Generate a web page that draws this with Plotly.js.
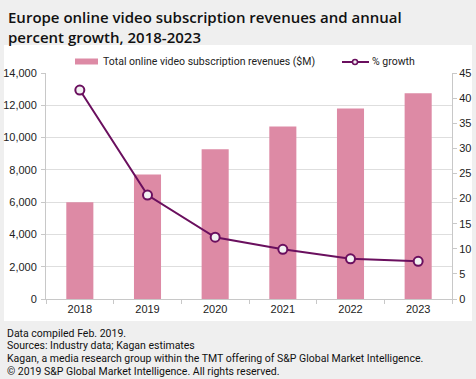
<!DOCTYPE html>
<html>
<head>
<meta charset="utf-8">
<script src="https://cdn.plot.ly/plotly-3.0.1.min.js"></script>
<style>
html,body{margin:0;padding:0;background:#efefef;}
#chart{width:476px;height:379px;}
</style>
</head>
<body>
<div id="chart"></div>
<script>
const years = ["2018", "2019", "2020", "2021", "2022", "2023"];
const revenues = [6000, 7720, 9270, 10680, 11800, 12740];
const growth = [41.6, 20.7, 12.3, 9.9, 8.0, 7.5];
const leftTicks = [0, 2000, 4000, 6000, 8000, 10000, 12000, 14000];
const rightTicks = [0, 5, 10, 15, 20, 25, 30, 35, 40, 45];
const seriesNames = ["Total online video subscription revenues ($M)", "% growth"];
const titleText = "Europe online video subscription revenues and annual<br>percent growth, 2018-2023";
const footerLines = [
  "Data compiled Feb. 2019.",
  "Sources: Industry data; Kagan estimates",
  "Kagan, a media research group within the TMT offering of S&P Global Market Intelligence.",
  "\u00a9 2019 S&P Global Market Intelligence. All rights reserved."
];

const barColor = "#dd8aa5";
const lineColor = "#6a0f5e";
const tickFont = {family: "Liberation Sans, Arial, sans-serif", size: 11, color: "#222"};
const W = 406, H = 226, L = 46, T = 73;
// helpers to convert pixel positions to paper coordinates (layout only)
const px = x => (x - L) / W;
const py = y => 1 - (y - T) / H;

const traces = [
  {
    type: "bar", x: years, y: revenues, name: seriesNames[0],
    marker: {color: barColor}, width: 0.4, yaxis: "y", showlegend: false
  },
  {
    type: "scatter", mode: "lines+markers", x: years, y: growth, name: seriesNames[1],
    yaxis: "y2", line: {color: lineColor, width: 2}, showlegend: false,
    marker: {size: 9, color: "#f2f2f2", line: {color: lineColor, width: 2}}
  }
];

const annotations = [
  {
    text: titleText, xref: "paper", yref: "paper", x: px(6), xanchor: "left",
    y: py(5), yanchor: "top", align: "left", showarrow: false,
    font: {family: "Open Sans, sans-serif", size: 15, color: "#111", weight: 600}
  },
  {
    text: seriesNames[0], xref: "paper", yref: "paper", x: px(101), xanchor: "left",
    y: py(61.5), yanchor: "middle", showarrow: false,
    font: {family: "Roboto, sans-serif", size: 10.5, color: "#222"}
  },
  {
    text: seriesNames[1], xref: "paper", yref: "paper", x: px(370), xanchor: "left",
    y: py(61.5), yanchor: "middle", showarrow: false,
    font: {family: "Roboto, sans-serif", size: 10.5, color: "#222"}
  }
];
footerLines.forEach((t, i) => annotations.push({
  text: t, xref: "paper", yref: "paper", x: px(5), xanchor: "left",
  y: py(333 + i * 12.7), yanchor: "middle", showarrow: false,
  font: {family: "Roboto, sans-serif", size: 10.5, color: "#111"}
}));

const layout = {
  width: 476, height: 379,
  paper_bgcolor: "#efefef", plot_bgcolor: "#ffffff",
  margin: {l: L, r: 24, t: T, b: 80, pad: 0},
  showlegend: false,
  bargap: 0.6,
  xaxis: {
    type: "category", tickfont: tickFont, showline: true, linecolor: "#c8c8c8", linewidth: 1,
    ticks: "outside", ticklen: 4, tickcolor: "#c8c8c8", tickson: "boundaries",
    showgrid: false, zeroline: false
  },
  yaxis: {
    range: [0, 14000], tickvals: leftTicks, ticktext: leftTicks.map(v => v.toLocaleString("en-US")),
    tickfont: tickFont, showline: true, linecolor: "#c8c8c8", ticks: "outside", ticklen: 4,
    tickcolor: "#c8c8c8", showgrid: true, gridcolor: "#dedede", zeroline: false, ticklabelstandoff: 2
  },
  yaxis2: {
    range: [0, 45], tickvals: rightTicks, overlaying: "y", side: "right",
    tickfont: tickFont, showline: true, linecolor: "#c8c8c8", ticks: "outside", ticklen: 4,
    tickcolor: "#c8c8c8", showgrid: false, zeroline: false
  },
  shapes: [
    {type: "rect", xref: "paper", yref: "paper", layer: "below",
     x0: px(4), x1: px(472), y0: py(321), y1: py(45),
     fillcolor: "#ffffff", line: {width: 0}},
    // legend swatches
    {type: "rect", xref: "paper", yref: "paper", x0: px(75), x1: px(98), y0: py(64.5), y1: py(58.5),
     fillcolor: barColor, line: {width: 0}},
    {type: "line", xref: "paper", yref: "paper", x0: px(342), x1: px(369), y0: py(62), y1: py(62),
     line: {color: lineColor, width: 2}},
    {type: "circle", xref: "paper", yref: "paper", x0: px(352.5), x1: px(357.5), y0: py(64.5), y1: py(59.5),
     fillcolor: "#f2f2f2", line: {color: lineColor, width: 1.5}}
  ],
  annotations: annotations
};

Plotly.newPlot("chart", traces, layout, {displayModeBar: false, staticPlot: true});
</script>
</body>
</html>
